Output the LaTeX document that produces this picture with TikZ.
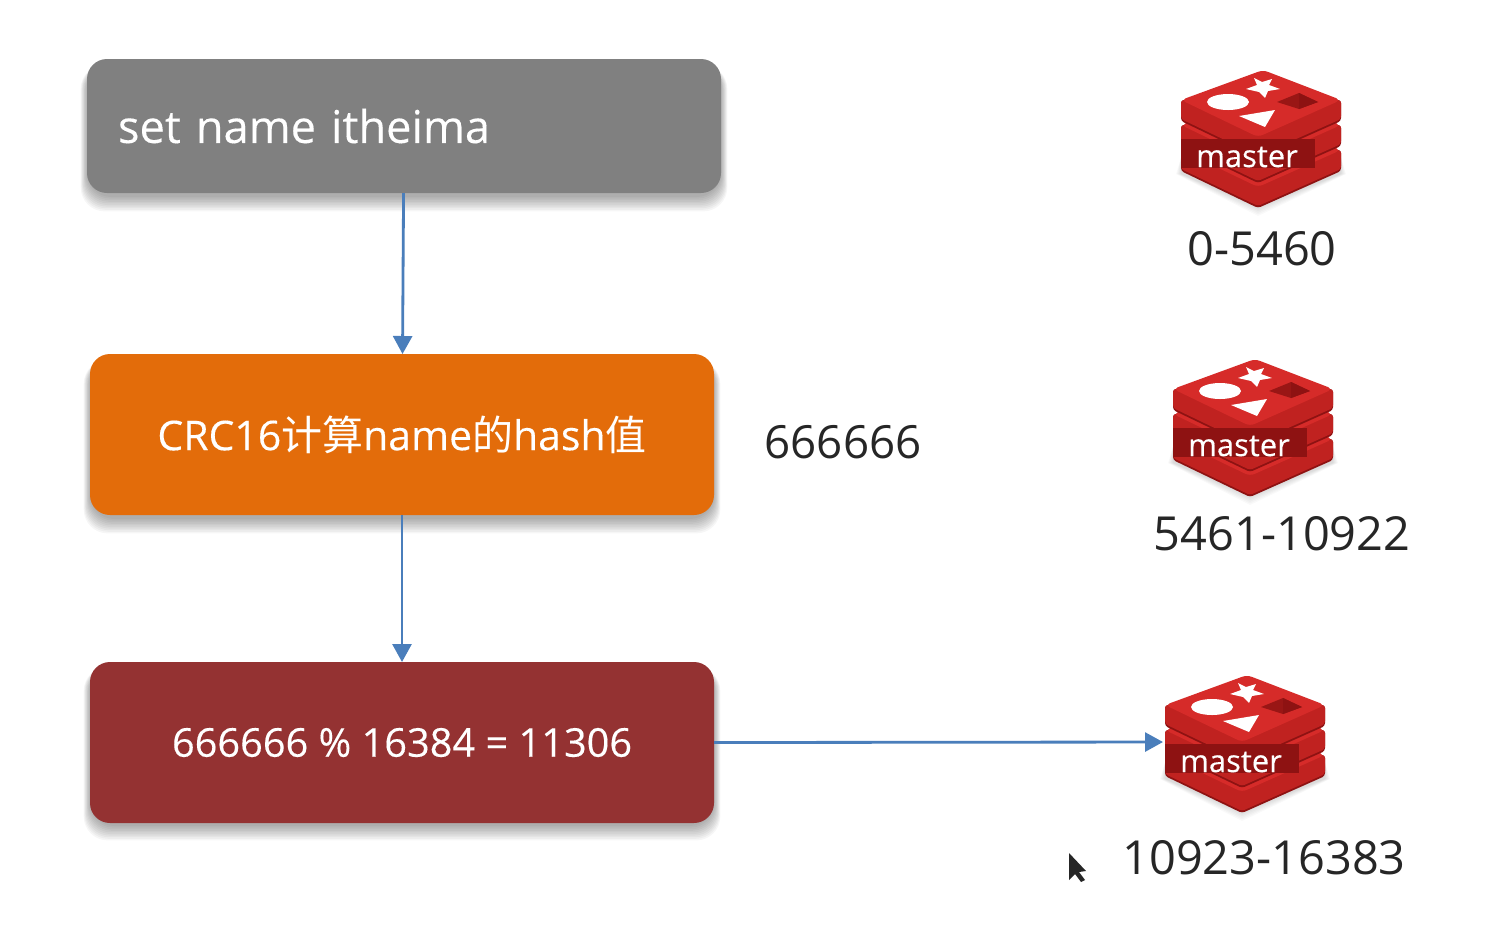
\documentclass[tikz,border=0pt]{standalone}
\usepackage{fontspec}
\setmainfont{Open Sans}
\newfontfamily\cjk{Noto Sans CJK SC}
\newfontfamily\boldish[FakeBold=0.25]{Open Sans}
\usetikzlibrary{arrows.meta}
\definecolor{flowblue}{HTML}{4A7EBB}
\definecolor{boxgray}{HTML}{808080}
\definecolor{boxorange}{HTML}{E36C0A}
\definecolor{boxred}{HTML}{943232}
\definecolor{logoface}{HTML}{D62B29}
\definecolor{logoside}{HTML}{C02220}
\definecolor{logodark}{HTML}{8E1212}
\newcommand{\softshadow}[4]{%
	\foreach \g in {0,...,9}
		\fill[black, opacity=0.035, rounded corners=2.4mm]
			(#1-\g*0.7,#2+6) rectangle (#3+\g*0.7,#4+4+\g*1.6);
}
\tikzset{
	flowbox/.style={rounded corners=2mm, inner sep=0pt, outer sep=0pt, text=white,
		minimum width=62.4mm, minimum height=16.1mm},
	flowline/.style={flowblue, line width=0.8pt, -{Triangle[length=1.8mm, width=1.9mm]}},
	rangelabel/.style={font=\fontsize{13.35}{15}\selectfont, text=black!85},
	redislogo/.pic={
		% soft shadow under the stack
		\foreach \g in {0,...,5}
			\fill[black, opacity=0.025] (-79-\g,36) -- (-2,70+\g*1.6) -- (81+\g,36) -- (81,20) -- (-79,20) -- cycle;
		% three layers, lowest first
		\foreach \dy in {50,25,0} {
			\fill[logodark, rounded corners=0.3mm] (-79,-38+\dy) -- (-79,-17+\dy) -- (-2,20+\dy) -- (81,-17+\dy) -- (81,-38+\dy) -- cycle;
			\fill[logoside, rounded corners=0.3mm] (-79,-38+\dy) -- (-79,-19+\dy) -- (-2,18+\dy) -- (81,-19+\dy) -- (81,-38+\dy) -- cycle;
			\fill[logoface, rounded corners=0.5mm] (-79,-38+\dy) -- (3,-68+\dy) -- (81,-38+\dy) -- (-2,-1+\dy) -- cycle;
		}
		% shapes on the top face
		\fill[white] (-32,-36) ellipse (21 and 8);
		\fill[white] (-6,-60) -- (2,-56) -- (12,-59) -- (9,-53) -- (20,-49) -- (8,-47) -- (5,-40) -- (-1,-46) -- (-14,-49) -- (-3,-53) -- cycle;
		\fill[white] (-21,-22) -- (15,-28) -- (5,-11) -- cycle;
		\fill[logodark!85!logoface] (17,-36) -- (39,-45) -- (58,-36) -- (39,-29) -- cycle;
		\fill[logodark] (39,-45) -- (58,-36) -- (39,-29) -- cycle;
		% name band
		\fill[logodark] (-79,1) rectangle (55,30);
		\node[text=white, font=\boldish\fontsize{8.8}{11}\selectfont] (-pname) at (-13,19) {master};
	}
}
\begin{document}
\begin{tikzpicture}[x=0.1mm, y=-0.1mm]
	\useasboundingbox (0,0) rectangle (1503,951);
	\fill[white] (0,0) rectangle (1503,951);
	% shadows below the boxes
	\softshadow{87}{59}{721}{193}
	\softshadow{90}{354}{714}{515}
	\softshadow{90}{661}{714}{822}
	% flow boxes
	\node[flowbox, fill=boxgray, minimum width=63.4mm, minimum height=13.4mm, text width=57.2mm, inner xsep=3.1mm, align=left, font=\boldish\fontsize{12.85}{15}\selectfont] (cmdBox) at (404,126) {set name itheima};
	\node[flowbox, fill=boxorange, font=\boldish\fontsize{11.65}{14}\selectfont] (hashBox) at (402,434.5) {CRC16{\cjk 计算}name{\cjk 的}hash{\cjk 值}};
	\node[flowbox, fill=boxred, font=\boldish\fontsize{11.3}{14}\selectfont] (modBox) at (402,742.5) {666666 \% 16384 = 11306};
	% hash value
	\node[rangelabel, font=\fontsize{13}{15}\selectfont] (hashValue) at (843,442) {666666};
	% masters with their slot ranges
	\pic (masterA) at (1260,138) {redislogo};
	\node[rangelabel] (rangeA) at (1262,249) {0-5460};
	\pic (masterB) at (1252,427) {redislogo};
	\node[rangelabel] (rangeB) at (1282,534) {5461-10922};
	\pic (masterC) at (1244,743) {redislogo};
	\node[rangelabel] (rangeC) at (1264,858) {10923-16383};
	\coordinate (masterCin) at (1163,742);
	% arrows
	\draw[flowline] (cmdBox) -- (hashBox);
	\draw[flowline] (hashBox) -- (modBox);
	\draw[flowline] (modBox.east) -- (masterCin);
	% mouse pointer
	\fill[black!85] (1069,853) -- (1086,871) -- (1079,872) -- (1085,880) -- (1081,882) -- (1075,874) -- (1069,880) -- cycle;
\end{tikzpicture}
\end{document}
